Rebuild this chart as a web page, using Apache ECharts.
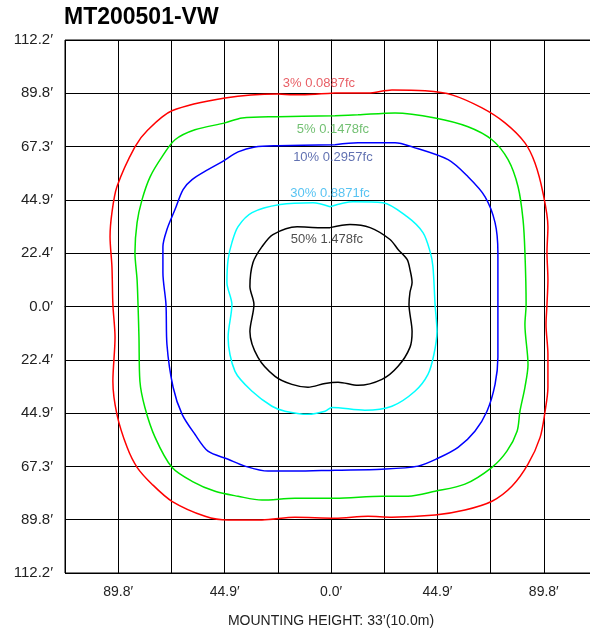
<!DOCTYPE html>
<html>
<head>
<meta charset="utf-8">
<script src="https://cdn.jsdelivr.net/npm/echarts@6/dist/echarts.min.js"></script>
<style>html,body{margin:0;padding:0;background:#fff;}#c{width:590px;height:635px;}</style>
</head>
<body>
<div id="c"></div>
<script>
// ---- data (feet) ----
const axisMin = -112.2, axisMax = 112.2, tickStep = 22.44;
const yTickLabels = ['112.2′','89.8′','67.3′','44.9′','22.4′','0.0′','22.4′','44.9′','67.3′','89.8′','112.2′'];
const xTickLabels = ['','89.8′','','44.9′','','0.0′','','44.9′','','89.8′',''];
const xAxisName = 'MOUNTING HEIGHT: 33’(10.0m)';
const chartTitle = 'MT200501-VW';

const contourNames = ['3% 0.0887fc','5% 0.1478fc','10% 0.2957fc','30% 0.8871fc','50% 1.478fc'];

const contour3 = [[1.7,89.9],[15.6,89.9],[25.7,91.2],[39.7,90.8],[51.0,89.1],[63.7,83.6],[73.4,77.3],[81.8,68.9],[86.0,60.5],[89.4,47.9],[91.5,33.6],[91.1,22.7],[91.5,11.3],[91.1,0.8],[90.7,-7.6],[91.5,-20.2],[91.5,-34.0],[90.3,-44.1],[88.2,-55.1],[83.1,-66.4],[76.3,-75.7],[67.9,-82.0],[56.5,-85.7],[43.9,-87.8],[25.7,-88.7],[15.6,-88.3],[1.7,-89.1],[-15.2,-88.7],[-29.1,-89.9],[-43.4,-89.9],[-53.1,-88.3],[-67.1,-82.0],[-75.5,-74.8],[-81.8,-67.7],[-86.0,-59.3],[-90.3,-45.4],[-92.0,-31.5],[-91.1,-13.0],[-92.0,0.8],[-92.4,16.8],[-93.2,29.4],[-92.4,39.5],[-90.3,50.4],[-82.7,67.2],[-77.2,74.4],[-67.1,82.4],[-44.7,87.8],[-22.4,89.5],[-16.0,89.1],[1.7,89.9]];
const contour5 = [[1.7,80.3],[11.4,80.7],[27.0,81.5],[43.9,79.4],[57.8,75.7],[67.9,70.2],[74.7,61.8],[78.9,50.4],[81.0,36.6],[81.8,22.7],[82.3,0.8],[81.8,-7.6],[83.1,-24.4],[81.8,-34.0],[79.7,-44.1],[78.5,-52.5],[74.2,-60.9],[67.9,-67.7],[56.5,-74.8],[43.9,-77.8],[32.5,-79.9],[21.5,-79.9],[1.7,-80.7],[-15.2,-80.7],[-29.1,-81.5],[-39.2,-79.9],[-48.9,-77.8],[-58.6,-73.6],[-67.1,-67.7],[-74.2,-55.1],[-78.5,-42.5],[-80.6,-31.5],[-81.0,-13.0],[-81.4,0.8],[-81.8,11.3],[-82.7,22.7],[-81.8,35.3],[-79.7,45.0],[-76.3,54.6],[-71.3,63.0],[-65.8,70.2],[-57.4,74.4],[-44.7,77.3],[-37.5,79.4],[-22.4,79.9],[1.7,80.3]];
const contour10 = [[1.7,68.1],[11.4,68.9],[27.0,68.9],[34.2,67.2],[49.4,61.8],[57.8,54.6],[65.0,46.2],[69.2,35.3],[70.4,22.7],[70.4,0.8],[70.4,-7.6],[70.4,-21.4],[69.2,-32.8],[65.8,-44.1],[60.7,-52.5],[53.6,-59.3],[45.1,-63.9],[36.7,-67.2],[21.5,-68.5],[1.7,-68.9],[-15.2,-69.3],[-26.6,-69.3],[-36.3,-67.2],[-43.4,-64.3],[-51.9,-60.9],[-57.4,-53.8],[-62.8,-45.4],[-66.6,-34.0],[-69.2,-16.0],[-69.6,0.8],[-70.9,14.3],[-70.9,25.2],[-69.2,32.4],[-65.8,40.8],[-62.4,49.2],[-58.6,53.4],[-51.9,57.6],[-46.0,60.9],[-39.2,65.1],[-32.1,67.2],[-22.4,67.7],[1.7,68.1]];
const contour30 = [[-0.4,42.0],[9.3,44.1],[21.9,43.7],[32.1,37.8],[38.8,31.1],[41.8,23.1],[43.0,16.8],[43.9,0.8],[44.7,-10.5],[43.4,-20.2],[40.9,-28.6],[35.4,-35.7],[25.7,-42.0],[14.3,-43.7],[0.4,-42.5],[-2.5,-44.1],[-9.7,-45.4],[-19.4,-44.1],[-24.9,-42.0],[-33.3,-35.7],[-40.5,-27.3],[-43.4,-13.0],[-41.8,0.8],[-43.9,10.1],[-43.4,19.8],[-41.8,26.9],[-39.2,33.6],[-33.3,39.5],[-21.5,42.9],[-7.6,43.7],[-0.4,42.0]];
const contour50 = [[-0.4,33.2],[8.0,34.5],[16.5,33.2],[24.9,28.2],[28.3,24.0],[32.1,19.8],[33.3,15.6],[34.2,10.1],[33.3,5.9],[32.9,0.8],[34.2,-10.5],[33.3,-17.2],[28.3,-25.2],[21.5,-30.7],[11.4,-33.2],[3.0,-31.9],[-2.5,-32.4],[-9.7,-34.0],[-16.5,-32.8],[-23.6,-29.4],[-30.8,-21.4],[-34.2,-10.5],[-32.5,0.8],[-34.2,8.4],[-32.9,18.5],[-29.1,25.2],[-24.5,30.3],[-14.3,33.6],[-4.6,33.2],[-0.4,33.2]];

const labelX = [-5.1, 0.8, 0.8, -0.4, -1.7];
const labelY = [94.1, 74.4, 62.6, 47.5, 28.2];

// ---- styles ----
const lineColors = ['#ff0000','#00e600','#0000ff','#00ffff','#000000'];
const textColors = ['#e2363f','#4fb04f','#3a4d9e','#2db4ef','#222222'];
const contours = [contour3, contour5, contour10, contour30, contour50];

const FONT = '"Liberation Sans", Arial, Helvetica, sans-serif';
const chart = echarts.init(document.getElementById('c'), null, {renderer: 'canvas'});

function idx(v){ return Math.round((v - axisMin) / tickStep); }

const series = contours.map((d, i) => ({
  type: 'line',
  name: contourNames[i],
  data: d,
  showSymbol: false,
  symbol: 'none',
  smooth: 0.3,
  lineStyle: {color: lineColors[i], width: 1.5},
  z: 3,
  silent: true
}));

series.push({
  type: 'scatter',
  symbolSize: 0,
  silent: true,
  z: 5,
  data: contourNames.map((n, i) => ({
    value: [labelX[i], labelY[i]],
    label: {
      show: true, position: 'inside', formatter: n,
      color: textColors[i], fontSize: 13, fontFamily: FONT
    }
  }))
});

chart.setOption({
  animation: false,
  backgroundColor: '#fff',
  title: {
    text: chartTitle, left: 64, top: 6, padding: 0,
    textStyle: {fontSize: 23, fontWeight: 'bold', color: '#000', fontFamily: FONT}
  },
  grid: {left: 65, top: 40, width: 532, height: 533, outerBoundsMode: 'none', containLabel: false,
    show: true, borderColor: '#000', borderWidth: 1, backgroundColor: 'transparent'},
  xAxis: {
    type: 'value', min: axisMin, max: axisMax, interval: tickStep,
    name: xAxisName, nameLocation: 'middle', nameGap: 41,
    nameTextStyle: {fontSize: 14, color: '#222', fontFamily: FONT},
    axisLine: {show: true, lineStyle: {color: '#000', width: 1}},
    axisTick: {show: false},
    axisLabel: {show: true, margin: 12, fontSize: 14, color: '#222', fontFamily: FONT,
      formatter: v => xTickLabels[idx(v)] || ''},
    splitLine: {show: true, lineStyle: {color: '#000', width: 1}}
  },
  yAxis: {
    type: 'value', min: axisMin, max: axisMax, interval: tickStep,
    axisLine: {show: true, lineStyle: {color: '#000', width: 1}},
    axisTick: {show: false},
    axisLabel: {show: true, margin: 12, fontSize: 15, color: '#222', fontFamily: FONT,
      showMinLabel: true, showMaxLabel: true,
      formatter: v => yTickLabels[10 - idx(v)] || ''},
    splitLine: {show: true, lineStyle: {color: '#000', width: 1}}
  },
  series: series
});
</script>
</body>
</html>
